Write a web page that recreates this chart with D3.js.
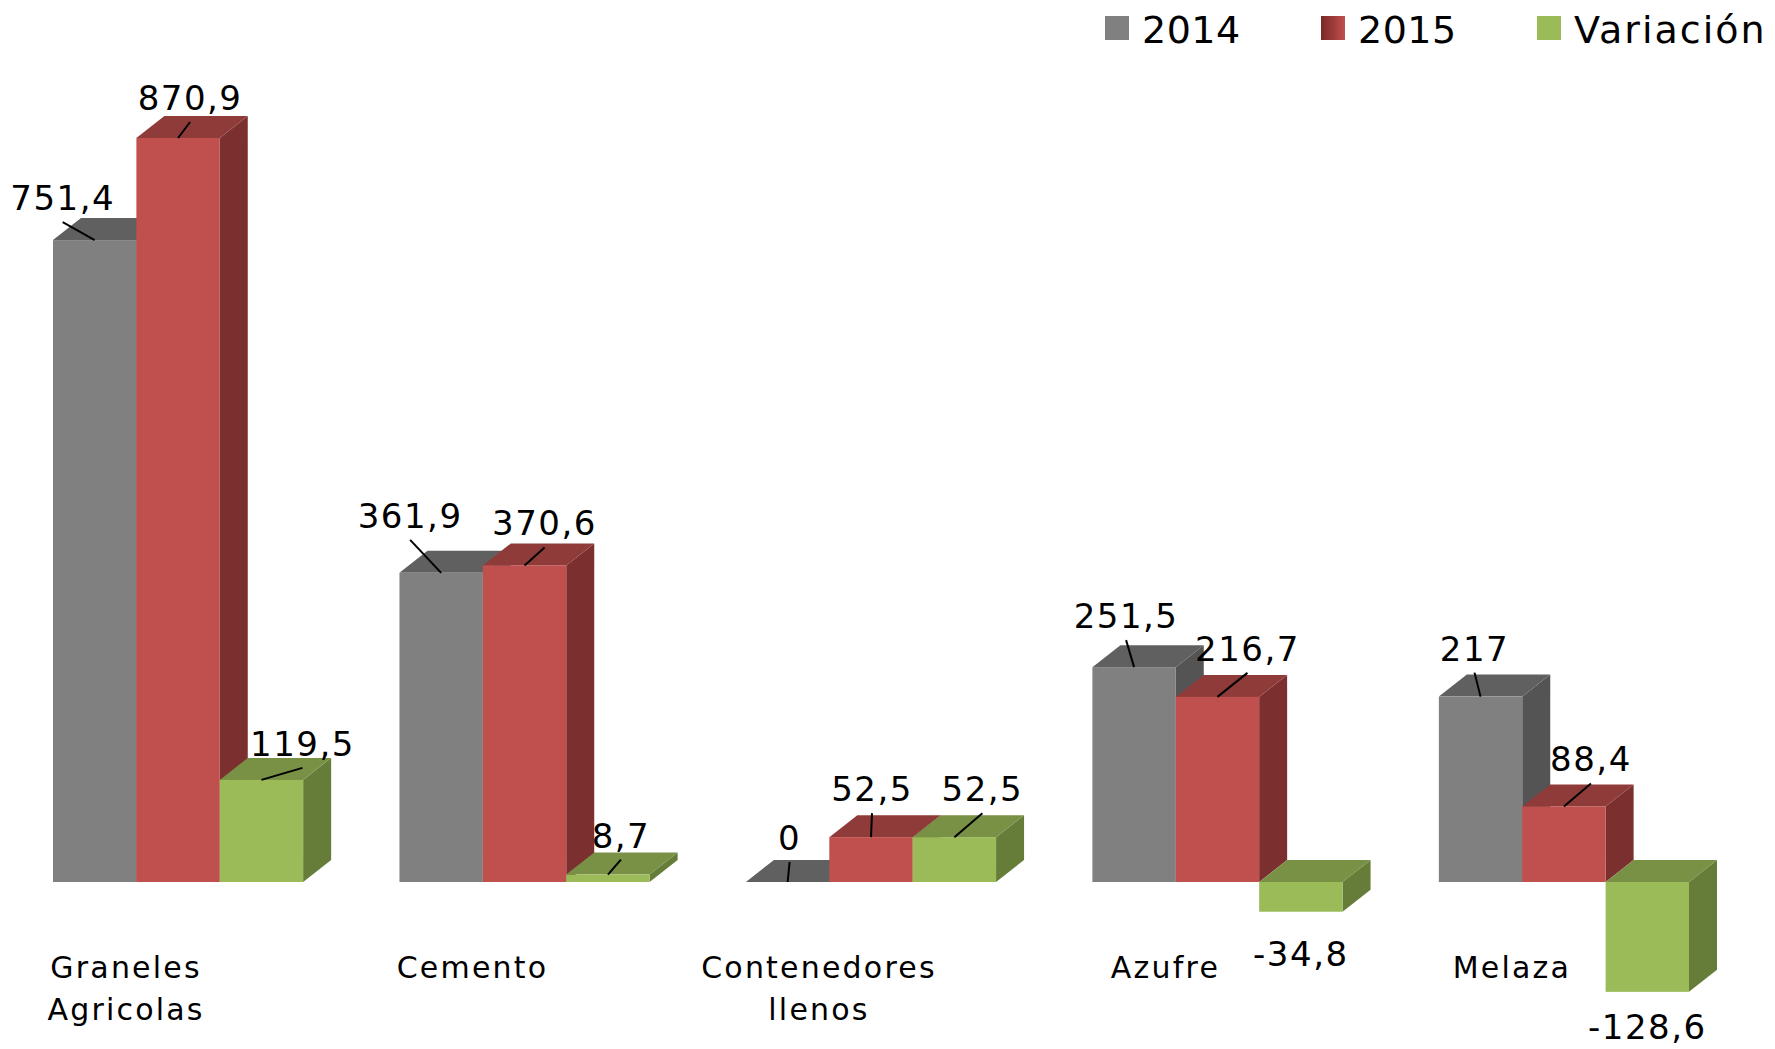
<!DOCTYPE html>
<html>
<head>
<meta charset="utf-8">
<script src="https://cdn.jsdelivr.net/npm/d3@7"></script>
<style>
  body { margin: 0; background: #fff; }
  text { font-family: "DejaVu Sans", sans-serif; fill: #000; }
</style>
</head>
<body>
<div id="chart"></div>
<script>
// data
var categories = [["Graneles", "Agricolas"], ["Cemento"], ["Contenedores", "llenos"], ["Azufre"], ["Melaza"]];
var seriesNames = ["2014", "2015", "Variación"];
var values2014 = [751.4, 361.9, 0, 251.5, 217];
var values2015 = [870.9, 370.6, 52.5, 216.7, 88.4];
var variacion = [119.5, 8.7, 52.5, -34.8, -128.6];

var W = 1775, H = 1049;
var depth = { x: 28, y: -22 };

var colors = [
    { front: "#808080", top: "#606060", side: "#545454" },
    { front: "#c0504d", top: "#8f3b39", side: "#7b302f" },
    { front: "#9bbb59", top: "#789145", side: "#667c39" }
];

// where Excel moved each data label, relative to the bar end [dx, dy]
var labelShift = [
    [[-32, -30], [-31, -45], [2, -32], [-8, -39], [-6, -36]],
    [[12, -28], [20, -30], [1, -36], [30, -36], [27, -35]],
    [[41, -24], [13, -27], [28, -36], [0, 54], [0, 47]]
];

var svg = d3.select("#chart").append("svg")
    .attr("width", W)
    .attr("height", H);

var defs = svg.append("defs");
var grad = defs.append("linearGradient").attr("id", "redLegend");
grad.append("stop").attr("offset", "0%").attr("stop-color", "#7a2726");
grad.append("stop").attr("offset", "100%").attr("stop-color", "#c0504d");

var x0 = d3.scaleBand()
    .domain(d3.range(categories.length))
    .range([53, 1689])
    .paddingInner(0.278)
    .paddingOuter(0);

var x1 = d3.scaleBand()
    .domain(d3.range(seriesNames.length))
    .range([0, x0.bandwidth()]);

var y = d3.scaleLinear()
    .domain([0, 870.9])
    .range([882, 138]);

var series = [values2014, values2015, variacion];

var bars = [];
categories.forEach(function(c, i) {
    series.forEach(function(vals, s) {
        var v = vals[i];
        var xa = x0(i) + x1(s), xb = xa + x1.bandwidth();
        var yt = Math.min(y(0), y(v)), yb = Math.max(y(0), y(v));
        bars.push({ i: i, s: s, v: v, xa: xa, xb: xb, yt: yt, yb: yb });
    });
});

var pts = function(a) { return a.map(function(p) { return p.join(","); }).join(" "); };

var g = svg.append("g");
bars.forEach(function(b) {
    var c = colors[b.s];
    // side
    g.append("polygon")
        .attr("points", pts([[b.xb, b.yt], [b.xb + depth.x, b.yt + depth.y], [b.xb + depth.x, b.yb + depth.y], [b.xb, b.yb]]))
        .attr("fill", c.side);
    // top
    g.append("polygon")
        .attr("points", pts([[b.xa, b.yt], [b.xb, b.yt], [b.xb + depth.x, b.yt + depth.y], [b.xa + depth.x, b.yt + depth.y]]))
        .attr("fill", c.top);
    // front
    g.append("rect")
        .attr("x", b.xa)
        .attr("y", b.yt)
        .attr("width", b.xb - b.xa)
        .attr("height", b.yb - b.yt)
        .attr("fill", c.front);
});

// data labels
var fmt = function(v) { return String(v).replace(".", ","); };
var lab = svg.append("g");
bars.forEach(function(b) {
    var sh = labelShift[b.s][b.i];
    var cx = (b.xa + b.xb) / 2;
    var yEnd = b.v < 0 ? b.yb : b.yt;
    var tx = cx + sh[0], ty = yEnd + sh[1];
    lab.append("text")
        .attr("x", tx)
        .attr("y", ty)
        .attr("text-anchor", "middle")
        .style("font-size", "34px")
        .style("letter-spacing", "1.5px")
        .text(fmt(b.v));
    if (b.v >= 0) {
        lab.append("line")
            .attr("x1", tx)
            .attr("y1", ty + 12)
            .attr("x2", cx)
            .attr("y2", yEnd)
            .attr("stroke", "#000")
            .attr("stroke-width", 2);
    }
});

// category labels
var cat = svg.append("g");
categories.forEach(function(lines, i) {
    var cx = x0(i) + x0.bandwidth() / 2 - 52;
    var t = cat.append("text")
        .attr("x", cx)
        .attr("y", 978)
        .attr("text-anchor", "middle")
        .style("font-size", "30px")
        .style("letter-spacing", "2.2px");
    lines.forEach(function(l, k) {
        t.append("tspan")
            .attr("x", cx)
            .attr("dy", k === 0 ? 0 : 42)
            .text(l);
    });
});

// legend
var leg = svg.append("g").attr("transform", "translate(1105,16)");
seriesNames.forEach(function(n, s) {
    var it = leg.append("g").attr("transform", "translate(" + (s * 216) + ",0)");
    it.append("rect")
        .attr("width", 24)
        .attr("height", 24)
        .attr("fill", s === 1 ? "url(#redLegend)" : colors[s].front);
    it.append("text")
        .attr("x", 37)
        .attr("y", 27)
        .style("font-size", "38px")
        .style("letter-spacing", s === 2 ? "2px" : "0.5px")
        .text(n);
});
</script>
</body>
</html>
